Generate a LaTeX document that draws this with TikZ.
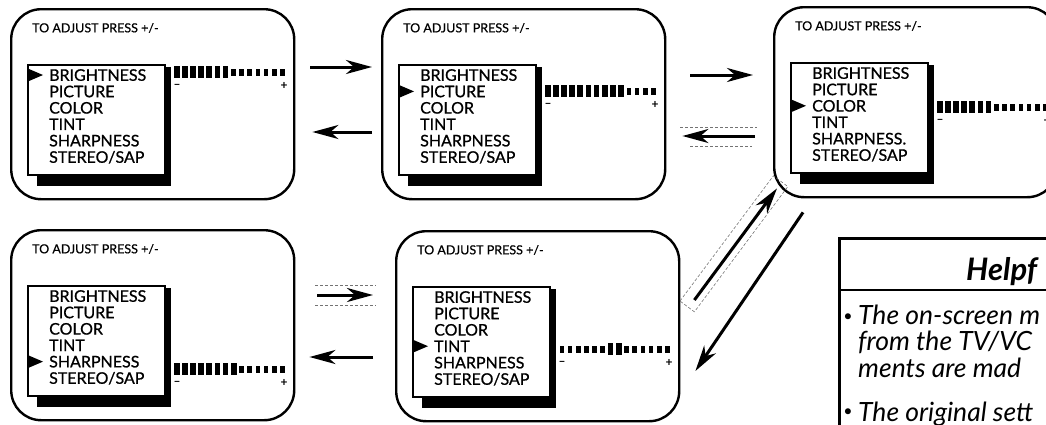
\documentclass[tikz,border=0pt]{standalone}
\usepackage{fontspec}
\setmainfont{Lato}
\usetikzlibrary{calc,arrows.meta}
\tikzset{
  screen/.style={draw, line width=2.4pt, rounded corners=30pt, minimum width=283pt, minimum height=190pt, anchor=north west, inner sep=0pt},
  menubox/.style={draw, line width=1.6pt, minimum width=137pt, minimum height=110pt, anchor=north west, inner sep=0pt, fill=white},
  menutext/.style={anchor=north west, align=left, inner sep=0pt, font=\fontsize{16}{16.4}\selectfont\addfontfeature{FakeBold=0.8}},
  titletext/.style={anchor=west, inner sep=0pt, font=\fontsize{12.5}{14}\selectfont\addfontfeature{FakeBold=0.6}},
  pm/.style={inner sep=0pt, font=\bfseries\fontsize{12}{12}\selectfont},
  arr/.style={line width=3pt, -{Stealth[length=26pt,width=14pt,inset=8pt]}},
  artifact/.style={densely dashed, line width=0.6pt, black!55},
  hinttext/.style={anchor=base west, inner sep=0pt, font=\itshape\fontsize{26.5}{27}\selectfont},
  bullet/.style={inner sep=0pt, font=\fontsize{16}{16}\selectfont},
}
% name, x, y, marker row, slider offset, pattern, sharpness label
\newcommand\tvscreen[7]{%
  \node[screen] (#1) at (#2,#3) {};
  \node[titletext] (#1t) at ($(#1.north west)+(22,20)$) {TO ADJUST PRESS +/-};
  \fill ($(#1.north west)+(154,59)$) rectangle ($(#1.north west)+(161,178)$);
  \fill ($(#1.north west)+(27,166)$) rectangle ($(#1.north west)+(161,178)$);
  \node[menubox] (#1m) at ($(#1.north west)+(17,56)$) {};
  \node[menutext] (#1i) at ($(#1m.north west)+(22,5)$) {BRIGHTNESS\\PICTURE\\COLOR\\TINT\\#7\\STEREO/SAP};
  \fill ($(#1m.north west)+(2,{11+(#4-1)*16.4-6})$) -- ++(0,12) -- ++(14,-6) -- cycle;
  \foreach \v [count=\i from 0] in {#6} {
    \ifnum\v=1
      \fill ($(#1.north west)+({164+\i*8.1},{#5-6})$) rectangle ++(5.8,12);
    \else
      \fill ($(#1.north west)+({164.5+\i*8.1},{#5-3.5})$) rectangle ++(4.8,7);
    \fi
  }
  \node[pm] (#1mi) at ($(#1.north west)+(167,{#5+14})$) {–};
  \node[pm] (#1pl) at ($(#1.north west)+(274,{#5+14})$) {+};
}
\begin{document}
\begin{tikzpicture}[x=1pt,y=-1pt]
\useasboundingbox (0,0) rectangle (1046,424);
\clip (0,0) rectangle (1046,424);

\tvscreen{s1}{10}{8}{1}{64}{1,1,1,1,1,1,1,0,0,0,0,0,0,0}{SHARPNESS}
\tvscreen{s2}{381}{8}{2}{83}{1,1,1,1,1,1,1,1,1,1,0,0,0,0}{SHARPNESS}
\tvscreen{s3}{773}{6}{3}{101}{1,1,1,1,1,1,1,0,0,0,0,0,0,0}{SHARPNESS.}
\tvscreen{s4}{10}{229}{5}{140}{1,1,1,1,1,1,1,1,0,0,0,0,0,0}{SHARPNESS}
\tvscreen{s5}{395}{230}{4}{119}{0,0,0,0,0,0,1,1,0,0,0,0,0,0}{SHARPNESS}

% arrows
\draw[arr] ($(s1.north east)+(15,59)$) -- ($(s2.north west)+(-9,59)$);
\draw[arr] ($(s2.north west)+(-9,124)$) -- ($(s1.north east)+(17,124)$);
\draw[arr] ($(s2.north east)+(24,67)$) -- ($(s3.north west)+(-20,69)$);
\draw[arr] ($(s3.north west)+(-18,130)$) -- ($(s2.north east)+(16,128)$);
\draw[arr] ($(s4.north east)+(22,66)$) -- ($(s5.north west)+(-22,65)$);
\draw[arr] ($(s5.north west)+(-22,127)$) -- ($(s4.north east)+(14,128)$);
\draw[arr] ($(s3.south west)+(30,14)$) -- ($(s5.north east)+(15,141)$);
\draw[arr] ($(s5.north east)+(14,70)$) -- ($(s3.south west)+(4,-10)$);

% scan artifacts
\draw[artifact] (680,127) -- (757,127);
\draw[artifact] (690,146) -- (752,146);
\draw[artifact] (315,285) -- (376,285);
\draw[artifact] (315,305) -- (376,305);
\draw[artifact] (680,301) -- (773.4,175.8) -- (787.8,186.6) -- (694.4,311.8) -- cycle;

% helpful hints box
\node[draw, line width=3pt, anchor=north west, minimum width=300pt, minimum height=250pt, inner sep=0pt] (hint) at (838,237) {};
\draw[line width=2.5pt] ($(hint.north west)+(0,53)$) -- ($(hint.north east)+(0,53)$);
\node[anchor=base west, inner sep=0pt, font=\bfseries\itshape\fontsize{31}{31}\selectfont] (hh) at ($(hint.north west)+(128,43)$) {Helpf};
\node[bullet] (d1) at (848,318) {•};
\node[hinttext] (h1) at (858,324) {The on-screen m};
\node[hinttext] (h2) at (858,350.5) {from the TV/VC};
\node[hinttext] (h3) at (858,377) {ments are mad};
\node[bullet] (d4) at (848,413) {•};
\node[hinttext] (h4) at (858,421) {The original sett};
\end{tikzpicture}
\end{document}
